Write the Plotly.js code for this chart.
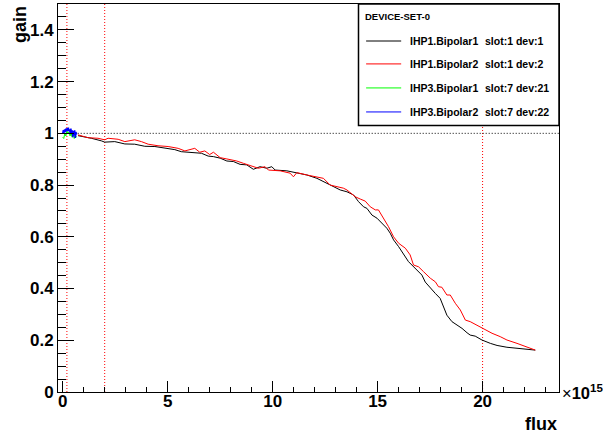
<!DOCTYPE html>
<html>
<head>
<meta charset="utf-8">
<script src="https://cdn.plot.ly/plotly-3.0.1.min.js"></script>
<style>html,body{margin:0;padding:0;background:#fff;}#chart{width:603px;height:437px;}</style>
</head>
<body>
<div id="chart"></div>
<script>
// flux values in units of 1e15
const seriesNames = ["IHP1.Bipolar1", "IHP1.Bipolar2", "IHP3.Bipolar1", "IHP3.Bipolar2"];
const seriesInfo = ["slot:1 dev:1", "slot:1 dev:2", "slot:7 dev:21", "slot:7 dev:22"];
const seriesColors = ["#000000", "#ff0000", "#00ff00", "#0000ff"];
const legendTitle = "DEVICE-SET-0";

const flux1 = [0.73, 1.05, 1.36, 1.84, 2.00, 2.48, 2.96, 3.43, 3.91, 4.39, 4.86, 5.34, 5.65, 5.97, 6.29, 6.61, 6.93, 7.18, 7.50, 7.82, 8.13, 8.45, 8.77, 9.08, 9.40, 9.72, 9.96, 10.12, 10.68, 11.15, 11.63, 12.11, 12.58, 12.90, 13.22, 13.54, 13.85, 14.09, 14.33, 14.49, 14.73, 14.97, 15.20, 15.44, 15.60, 15.76, 16.00, 16.23, 16.47, 16.63, 16.87, 17.11, 17.27, 17.51, 17.75, 17.98, 18.14, 18.30, 18.54, 18.78, 19.02, 19.26, 19.41, 19.65, 19.97, 20.37, 20.69, 21.16, 21.64, 22.12, 22.51];
const gain1 = [0.991, 0.987, 0.981, 0.971, 0.966, 0.968, 0.959, 0.958, 0.950, 0.949, 0.942, 0.937, 0.929, 0.927, 0.923, 0.923, 0.912, 0.910, 0.904, 0.893, 0.891, 0.880, 0.878, 0.861, 0.871, 0.865, 0.871, 0.858, 0.855, 0.846, 0.839, 0.826, 0.807, 0.794, 0.781, 0.774, 0.762, 0.736, 0.716, 0.710, 0.684, 0.672, 0.652, 0.633, 0.614, 0.588, 0.562, 0.536, 0.504, 0.491, 0.472, 0.452, 0.425, 0.401, 0.381, 0.362, 0.330, 0.297, 0.272, 0.259, 0.246, 0.229, 0.220, 0.216, 0.201, 0.188, 0.180, 0.173, 0.169, 0.165, 0.162];
const flux2 = [0.73, 1.21, 1.68, 2.00, 2.16, 2.64, 2.96, 3.43, 3.75, 4.07, 4.54, 5.02, 5.50, 5.82, 6.29, 6.53, 6.77, 7.00, 7.18, 7.50, 7.82, 8.29, 8.61, 8.93, 9.32, 9.64, 9.80, 10.36, 10.83, 10.99, 11.15, 11.63, 12.03, 12.42, 12.74, 13.06, 13.37, 13.54, 13.93, 14.17, 14.41, 14.65, 14.89, 15.04, 15.28, 15.52, 15.76, 16.00, 16.32, 16.55, 16.71, 16.95, 17.19, 17.51, 17.75, 17.90, 18.06, 18.30, 18.46, 18.70, 18.94, 19.18, 19.41, 19.73, 19.97, 20.21, 20.45, 20.84, 21.16, 21.64, 22.12, 22.51];
const gain2 = [0.994, 0.983, 0.981, 0.975, 0.981, 0.977, 0.968, 0.975, 0.968, 0.958, 0.952, 0.949, 0.942, 0.932, 0.942, 0.927, 0.932, 0.918, 0.927, 0.906, 0.901, 0.893, 0.884, 0.875, 0.865, 0.871, 0.858, 0.855, 0.846, 0.832, 0.848, 0.839, 0.832, 0.826, 0.800, 0.794, 0.788, 0.781, 0.755, 0.746, 0.738, 0.716, 0.704, 0.704, 0.672, 0.639, 0.600, 0.575, 0.556, 0.530, 0.491, 0.484, 0.465, 0.440, 0.426, 0.407, 0.405, 0.375, 0.375, 0.343, 0.317, 0.278, 0.272, 0.259, 0.246, 0.239, 0.227, 0.214, 0.201, 0.188, 0.175, 0.162];
const flux3 = [0.0, 0.05, 0.1, 0.15, 0.2, 0.25, 0.3, 0.35, 0.4, 0.45, 0.5, 0.55, 0.6, 0.65];
const gain3 = [0.985, 0.980, 1.000, 0.990, 1.010, 1.000, 1.005, 0.990, 1.000, 0.985, 1.000, 0.980, 0.995, 0.985];
const flux4 = [0.0, 0.03, 0.06, 0.09, 0.12, 0.15, 0.18, 0.21, 0.24, 0.27, 0.3, 0.33, 0.36, 0.39, 0.42, 0.45, 0.48, 0.51, 0.54, 0.57, 0.6, 0.63, 0.66];
const gain4 = [1.000, 1.012, 1.002, 1.015, 1.005, 1.018, 1.008, 1.020, 1.010, 1.022, 1.008, 1.015, 1.000, 1.018, 0.998, 1.012, 0.985, 1.010, 0.992, 1.012, 0.982, 1.005, 0.995];

const xTickVals = [0, 5, 10, 15, 20];
const xTickText = ["0", "5", "10", "15", "20"];
const yTickVals = [0, 0.2, 0.4, 0.6, 0.8, 1, 1.2, 1.4];
const yTickText = ["0", "0.2", "0.4", "0.6", "0.8", "1", "1.2", "1.4"];

const refFlux = [0.2, 2, 20];
const refGain = 1;
const xRange = [-0.224, 23.64];
const yRange = [0, 1.5];

const fluxes = [flux1, flux2, flux3, flux4];
const gains = [gain1, gain2, gain3, gain4];

const traces = fluxes.map((f, i) => ({
  x: f, y: gains[i], type: 'scatter', mode: 'lines',
  line: {color: seriesColors[i], width: i === 3 ? 1.5 : 1},
  name: seriesNames[i], showlegend: false, hoverinfo: 'skip'
}));

const F = {family: '"Liberation Sans", Arial, Helvetica, sans-serif', color: '#000', weight: 'bold'};
const fnt = (s) => Object.assign({}, F, {size: s});
const bold = (s) => '<b>' + s + '</b>';

const shapes = [];
refFlux.forEach(v => shapes.push({type: 'line', xref: 'x', yref: 'paper', x0: v, x1: v, y0: 0, y1: 1,
  line: {color: '#ff0000', width: 1, dash: '1px,2px'}, layer: 'below'}));
shapes.push({type: 'line', xref: 'x', yref: 'y', x0: 0, x1: xRange[1], y0: refGain, y1: refGain,
  line: {color: '#000', width: 1, dash: '1px,2px'}, layer: 'below'});

// legend box (layout positions in paper coords)
const lgX0 = 0.5998, lgX1 = 1.0, lgY0 = 0.687, lgY1 = 1.0;
shapes.push({type: 'rect', xref: 'paper', yref: 'paper', x0: lgX0, x1: lgX1, y0: lgY0, y1: lgY1,
  fillcolor: '#fff', line: {color: '#000', width: 1.5}});
const entryY = [0.9046, 0.8456, 0.7837, 0.7218];
const annotations = [];
annotations.push({xref: 'paper', yref: 'paper', x: 0.609, y: 0.9673, xanchor: 'left', yanchor: 'middle',
  text: bold(legendTitle), showarrow: false, font: fnt(9.5)});
seriesNames.forEach((n, i) => {
  shapes.push({type: 'line', xref: 'paper', yref: 'paper', x0: 0.615, x1: 0.685, y0: entryY[i], y1: entryY[i],
    line: {color: seriesColors[i], width: 1}});
  annotations.push({xref: 'paper', yref: 'paper', x: 0.699, y: entryY[i], xanchor: 'left', yanchor: 'middle',
    text: bold(n), showarrow: false, font: fnt(10.5)});
  annotations.push({xref: 'paper', yref: 'paper', x: 0.849, y: entryY[i], xanchor: 'left', yanchor: 'middle',
    text: bold(seriesInfo[i]), showarrow: false, font: fnt(10.5)});
});
// axis titles (ROOT style placement)
annotations.push({xref: 'paper', yref: 'paper', x: 1.0, y: -0.083, xanchor: 'right', yanchor: 'middle',
  text: bold('flux'), showarrow: false, font: fnt(18)});
annotations.push({xref: 'paper', yref: 'paper', x: -0.077, y: 1.0, xanchor: 'center', yanchor: 'top',
  text: bold('gain'), textangle: -90, showarrow: false, font: fnt(18)});
annotations.push({xref: 'paper', yref: 'paper', x: 1.002, y: 0.0, xanchor: 'left', yanchor: 'middle',
  text: '×<b>10</b><sup><b>15</b></sup>', showarrow: false,
  font: {family: F.family, color: '#000', size: 16.5, weight: 'normal'}});

const layout = {
  width: 603, height: 437,
  margin: {l: 58, r: 44.3, t: 4, b: 45.1, pad: 0},
  paper_bgcolor: '#fff', plot_bgcolor: '#fff',
  showlegend: false,
  font: F,
  xaxis: {range: xRange, showgrid: false, zeroline: false, showline: true, linecolor: '#000', linewidth: 1, mirror: true,
    ticks: 'inside', ticklen: 11, tickcolor: '#000', tickwidth: 1,
    tickmode: 'array', tickvals: xTickVals, ticktext: xTickText.map(bold),
    tickfont: fnt(17), ticklabelstandoff: -6,
    minor: {ticks: 'inside', ticklen: 5.5, dtick: 1, tick0: 0, tickcolor: '#000', showgrid: false}},
  yaxis: {range: yRange, showgrid: false, zeroline: false, showline: true, linecolor: '#000', linewidth: 1, mirror: true,
    ticks: 'inside', ticklen: 16, tickcolor: '#000', tickwidth: 1,
    tickmode: 'array', tickvals: yTickVals, ticktext: yTickText.map(bold),
    tickfont: fnt(17),
    minor: {ticks: 'inside', ticklen: 8, dtick: 0.05, tick0: 0, tickcolor: '#000', showgrid: false}},
  shapes: shapes,
  annotations: annotations
};

Plotly.newPlot('chart', traces, layout, {staticPlot: true, displayModeBar: false});
</script>
</body>
</html>
